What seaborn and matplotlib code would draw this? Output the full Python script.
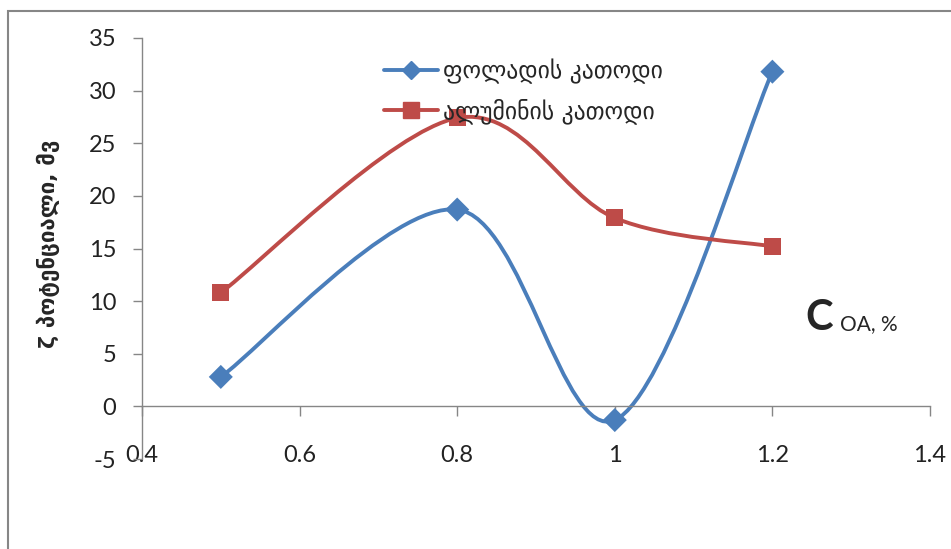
import numpy as np
import pandas as pd
import matplotlib
matplotlib.use("Agg")
import matplotlib.pyplot as plt
from matplotlib.path import Path
from matplotlib.patches import PathPatch, Rectangle
from matplotlib.lines import Line2D
import seaborn as sns

# data
conc = [0.5, 0.8, 1.0, 1.2]
steel = [2.8, 18.7, -1.3, 31.8]
alum = [10.8, 27.4, 17.9, 15.2]
series_names = ["ფოლადის კათოდი", "ალუმინის კათოდი"]
y_label = "ζ პოტენციალი, მვ"
x_ticks = [0.4, 0.6, 0.8, 1.0, 1.2, 1.4]
x_tick_labels = ["0.4", "0.6", "0.8", "1", "1.2", "1.4"]
y_ticks = [-5, 0, 5, 10, 15, 20, 25, 30, 35]

BLUE = "#4A7EBB"
RED = "#BE4B48"
GREY = "#868686"

sns.set_style("white")
plt.rcParams["font.family"] = ["Lato", "DejaVu Sans"]
plt.rcParams["axes.unicode_minus"] = False


def smooth_path(xs, ys):
    # excel-like smoothed line: cubic bezier through the points
    pts = np.column_stack([xs, ys]).astype(float)
    n = len(pts)
    verts = [pts[0]]
    codes = [Path.MOVETO]
    for i in range(n - 1):
        p_prev = pts[i - 1] if i > 0 else pts[i]
        p_next = pts[i + 2] if i + 2 < n else pts[i + 1]
        c1 = pts[i] + (pts[i + 1] - p_prev) / 6.0
        c2 = pts[i + 1] - (p_next - pts[i]) / 6.0
        verts += [c1, c2, pts[i + 1]]
        codes += [Path.CURVE4] * 3
    return Path(verts, codes)


df = pd.DataFrame({
    "conc": conc * 2,
    "value": steel + alum,
    "series": [series_names[0]] * len(conc) + [series_names[1]] * len(conc),
})

fig = plt.figure(figsize=(9.51, 5.49), dpi=100)
ax = fig.add_axes([142 / 951, 1 - 459 / 549, 788 / 951, 421 / 549])

# smoothed lines
for name, color in zip(series_names, [BLUE, RED]):
    sub = df[df["series"] == name]
    ax.add_patch(PathPatch(smooth_path(sub["conc"], sub["value"]), fill=False,
                           edgecolor=color, lw=2.8, capstyle="round", zorder=2))

# markers
sns.scatterplot(data=df, x="conc", y="value", hue="series", style="series",
                palette=[BLUE, RED], markers=["D", "s"], s=150, linewidth=0,
                legend=False, ax=ax, zorder=3)

ax.set_xlim(0.4, 1.4)
ax.set_ylim(-5, 35)
ax.set_xticks(x_ticks)
ax.set_xticklabels(x_tick_labels)
ax.set_yticks(y_ticks)

for s in ["top", "right"]:
    ax.spines[s].set_visible(False)
ax.spines["left"].set_color(GREY)
ax.spines["bottom"].set_color(GREY)
ax.spines["bottom"].set_position(("data", 0))
ax.spines["left"].set_linewidth(1.0)
ax.spines["bottom"].set_linewidth(1.0)

ax.tick_params(axis="x", direction="out", length=7, width=1, color=GREY,
               pad=21, labelsize=17, labelcolor="#222222", bottom=True)
ax.tick_params(axis="y", direction="out", length=6.5, width=1, color=GREY,
               pad=12, labelsize=17, labelcolor="#222222", left=True)

ax.set_xlabel("")
ax.set_ylabel(y_label, fontsize=16, fontweight="bold", family=["DejaVu Sans"])
ax.yaxis.set_label_coords(-0.104, 0.51)

# legend without frame
handles = [
    Line2D([], [], color=BLUE, lw=2.8, marker="D", markersize=9),
    Line2D([], [], color=RED, lw=2.8, marker="s", markersize=12),
]
fig.legend(handles, series_names, loc="upper left",
           bbox_to_anchor=(372 / 951, 1 - 47 / 549), frameon=False,
           prop={"family": "DejaVu Sans", "size": 17}, handlelength=2.3,
           handletextpad=0.2, labelspacing=0.6, borderpad=0)

# axis title inside plot
fig.text(805 / 951, 1 - 330 / 549, "C", fontsize=30, fontweight="bold",
         va="baseline", ha="left")
fig.text(840 / 951, 1 - 330 / 549, "OA, %", fontsize=15, va="baseline", ha="left")

# chart area border
fig.patches.append(Rectangle((8 / 951, -0.5), 1.5, 0.5 + 1 - 11 / 549,
                             transform=fig.transFigure, fill=False,
                             edgecolor=GREY, lw=1.5))

plt.savefig("out.png", dpi=100)
plt.close()
